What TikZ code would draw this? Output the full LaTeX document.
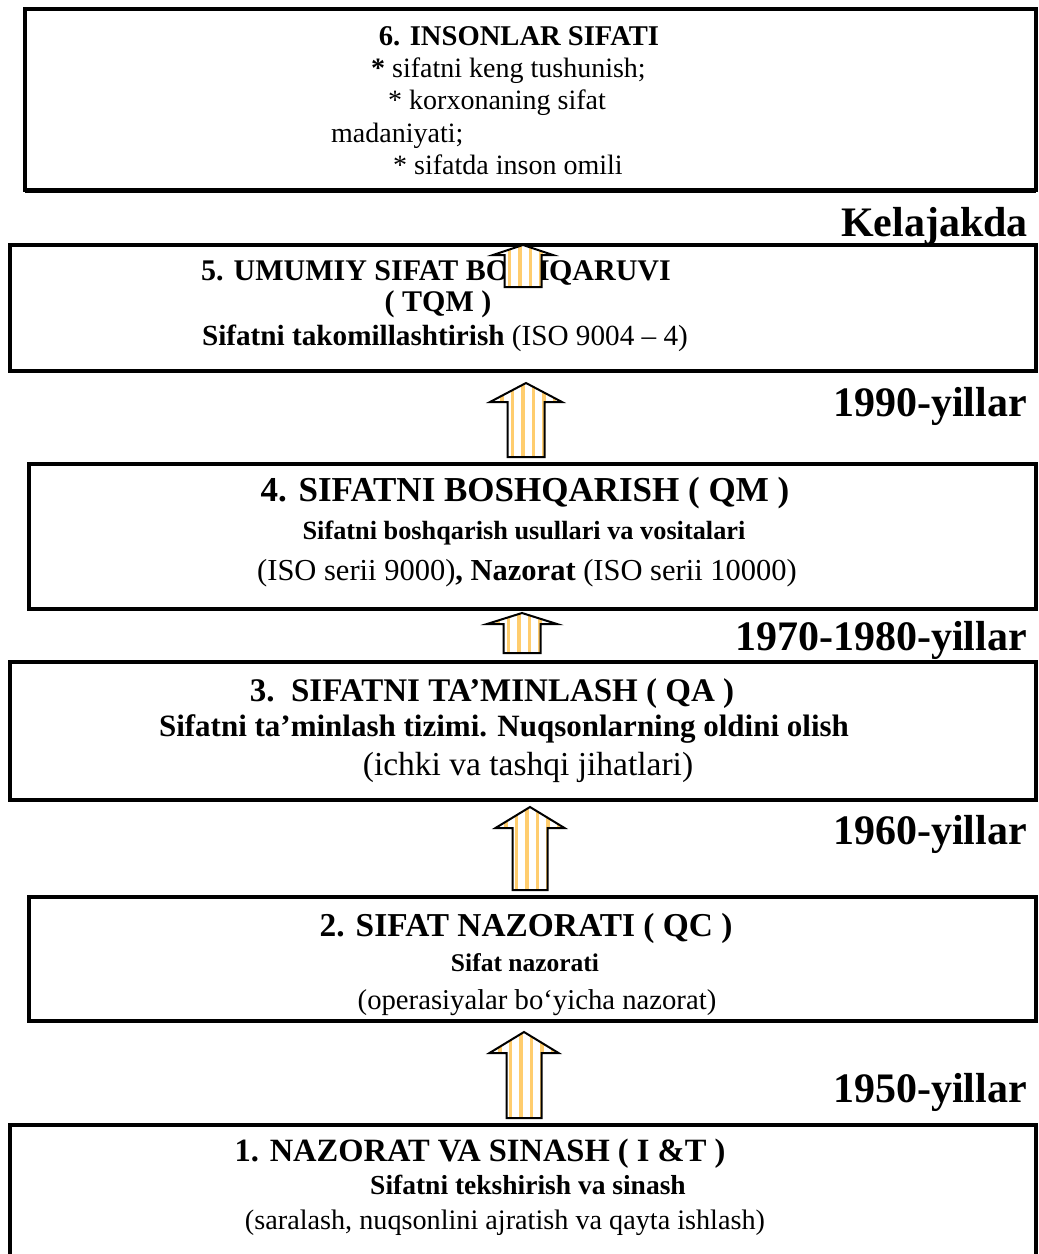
\documentclass[tikz,border=0pt]{standalone}
\usepackage{fontspec}
\setmainfont{Liberation Serif}
\usetikzlibrary{positioning}

\definecolor{stripe}{RGB}{255,205,110}

\newcommand{\fs}[1]{\fontsize{#1}{#1}\selectfont}

% striped block arrow: centre x, tip y, head base y, foot y, half shaft, half head
\newcommand{\blockarrow}[6]{%
  \begin{scope}
    \clip (#1-#5,#4) -- (#1-#5,#3) -- (#1-#6,#3) -- (#1,#2) -- (#1+#6,#3) -- (#1+#5,#3) -- (#1+#5,#4) -- cycle;
    \fill[white] (#1-#6,#2) rectangle (#1+#6,#4);
    \foreach \s in {-24,-13.5,...,30}
      \fill[stripe] (#1+\s-1.7,#2) rectangle (#1+\s+1.7,#4);
  \end{scope}
  \draw[line width=2pt, line join=miter] (#1-#5,#4) -- (#1-#5,#3) -- (#1-#6,#3) -- (#1,#2) -- (#1+#6,#3) -- (#1+#5,#3) -- (#1+#5,#4) -- cycle;
}

\tikzset{
  frame/.style={line width=3.5pt},
  txt/.style={inner sep=0pt, anchor=base},
  txtl/.style={inner sep=0pt, anchor=base west},
  period/.style={inner sep=0pt, anchor=base east, font=\fs{42}\bfseries},
}

\begin{document}
\begin{tikzpicture}[x=1pt,y=-1pt]
    \useasboundingbox (0,0) rectangle (1039,1254);
    \clip (0,0) rectangle (1039,1254);

    % Boxes
    \draw[frame] (25,9) rectangle (1036,190);
    \draw[line width=5pt] (25,190) -- (1036,190);
    \draw[frame] (10,245) rectangle (1036,371);
    \draw[frame] (29,464) rectangle (1036,609);
    \draw[frame] (10,662) rectangle (1036,800);
    \draw[frame] (29,897) rectangle (1036,1021);
    \draw[frame] (10,1270) -- (10,1125) -- (1036,1125) -- (1036,1270);

    % Stage 6
    \node[txt, font=\fs{28.6}\bfseries] (t6) at (519,45) {6. INSONLAR SIFATI};
    \node[txtl, font=\fs{28}] (l6a) at (371,77) {\textbf{*} sifatni keng tushunish;};
    \node[txtl, font=\fs{28}] (l6b) at (388,109) {* korxonaning sifat};
    \node[txtl, font=\fs{28}] (l6c) at (331,142) {madaniyati;};
    \node[txtl, font=\fs{28}] (l6d) at (393,174) {* sifatda inson omili};

    % Stage 5
    \node[txt, font=\fs{30}\bfseries] (t5) at (436,280) {5. UMUMIY SIFAT BOSHQARUVI};
    \node[txt, font=\fs{30}\bfseries] (q5) at (438,311) {( TQM )};
    \node[txt, font=\fs{29.2}] (s5) at (445,345) {\textbf{Sifatni takomillashtirish} (ISO 9004 – 4)};

    % Stage 4
    \node[txt, font=\fs{35}\bfseries] (t4) at (525,501) {4. SIFATNI BOSHQARISH ( QM )};
    \node[txt, font=\fs{26.3}\bfseries] (s4) at (524,539) {Sifatni boshqarish usullari va vositalari};
    \node[txt, font=\fs{30.5}] (n4) at (527,580) {(ISO serii 9000)\textbf{, Nazorat} (ISO serii 10000)};

    % Stage 3
    \node[txt, font=\fs{33}\bfseries] (t3) at (492,701) {3.\ \ SIFATNI TA’MINLASH ( QA )};
    \node[txt, font=\fs{31}\bfseries] (s3) at (504,736) {Sifatni ta’minlash tizimi. Nuqsonlarning oldini olish};
    \node[txt, font=\fs{33.5}] (n3) at (528,775) {(ichki va tashqi jihatlari)};

    % Stage 2
    \node[txt, font=\fs{33.4}\bfseries] (t2) at (526,936) {2. SIFAT NAZORATI ( QC )};
    \node[txt, font=\fs{25.5}\bfseries] (s2) at (525,971) {Sifat nazorati};
    \node[txt, font=\fs{28.7}] (n2) at (537,1009) {(operasiyalar bo‘yicha nazorat)};

    % Stage 1
    \node[txt, font=\fs{32.5}\bfseries] (t1) at (480,1161) {1. NAZORAT VA SINASH ( I \&T )};
    \node[txt, font=\fs{27.5}\bfseries] (s1) at (528,1194) {Sifatni tekshirish va sinash};
    \node[txt, font=\fs{28.2}] (n1) at (505,1229) {(saralash, nuqsonlini ajratish va qayta ishlash)};

    % Periods
    \node[period] (p6) at (1028,236) {Kelajakda};
    \node[period] (p5) at (1027,416) {1990-yillar};
    \node[period] (p4) at (1027,650) {1970-1980-yillar};
    \node[period] (p3) at (1027,844) {1960-yillar};
    \node[period] (p2) at (1027,1102) {1950-yillar};

    % Arrows
    \blockarrow{523}{245}{255}{287}{18.5}{30}
    \blockarrow{526}{383}{402}{457}{18.5}{36}
    \blockarrow{522}{613}{624}{653}{18.5}{35}
    \blockarrow{530}{807}{828}{890}{17.5}{34.5}
    \blockarrow{524}{1032}{1053}{1118}{17.5}{34.5}
\end{tikzpicture}
\end{document}
